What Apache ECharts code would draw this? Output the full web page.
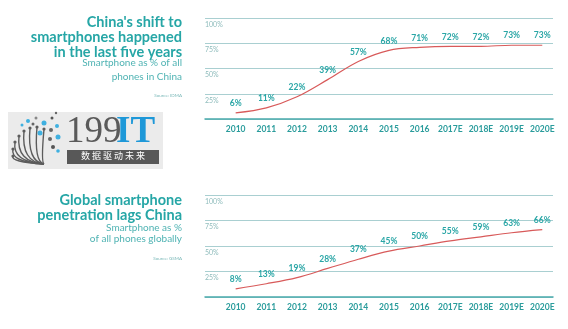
<!DOCTYPE html>
<html><head><meta charset="utf-8">
<script src="https://cdn.jsdelivr.net/npm/echarts@6/dist/echarts.min.js"></script>
<style>html,body{margin:0;padding:0;background:#fff}#c{width:568px;height:329px}</style>
</head><body><div id="c"></div>
<script>
const categories = ['2010','2011','2012','2013','2014','2015','2016','2017E','2018E','2019E','2020E'];
const chinaShare = [6,11,22,39,57,68,71,72,72,73,73];
const globalShare = [8,13,19,28,37,45,50,55,59,63,66];
const yTicks = [25,50,75,100];

const teal = '#26a6a6';
const chart = echarts.init(document.getElementById('c'), null, {renderer:'canvas'});

function xAxisCfg(gi){
  return {
    type:'value', gridIndex:gi, min:-1, max:10.35, interval:1,
    axisLine:{show:true, onZero:false, lineStyle:{color:'#4aaaac', width:1.5}},
    axisTick:{show:false}, splitLine:{show:false},
    axisLabel:{show:true, showMaxLabel:false, margin:6, color:'#2a9c9c', fontSize:8.5, fontWeight:'bold', fontFamily:'Lato',
      formatter:v=>categories[v] !== undefined ? categories[v] : ''}
  };
}
function yAxisCfg(gi){
  return {
    type:'value', gridIndex:gi, min:0, max:100, interval:25,
    axisLine:{show:false}, axisTick:{show:false},
    splitLine:{show:true, lineStyle:{color:'#a9cfd1', width:1}},
    axisLabel:{inside:true, margin:0, verticalAlign:'top', padding:[3,0,0,0], color:'#8fbcbc', fontSize:7, fontFamily:'Lato',
      formatter:v=>yTicks.includes(v) ? v+'%' : ''}
  };
}
function seriesCfg(gi, vals){
  return {
    type:'line', xAxisIndex:gi, yAxisIndex:gi, smooth:0.35,
    data: vals.map((v,i)=>[i,v]),
    symbol:'circle', symbolSize:0.01,
    lineStyle:{color:'#d85a5a', width:1.2},
    itemStyle:{color:'#d85a5a'},
    label:{show:true, position:'top', distance:5, color:'#2aa6a6', fontSize:8.5, fontWeight:'bold', fontFamily:'Lato',
      formatter:p=>p.value[1]+'%'},
    silent:true, animation:false
  };
}

const titleStyle = {fill:teal, font:'bold 14.5px Lato', textAlign:'right'};
const subStyle = {fill:'#4fb3b3', font:'10px Lato', textAlign:'right'};
const srcStyle = {fill:'#7ab8b8', font:'4.5px Lato', textAlign:'right'};

const logo = [];
logo.push({type:'rect', shape:{x:8,y:112,width:155,height:57}, style:{fill:'#ebebeb'}});
// fan of dark strands from a base point toward the upper left
const base = [44,164];
const ends = [[13,156],[13,149],[15,142],[19,136],[24,131],[30,128],[37,127],[44,129]];
ends.forEach(e=>{
  logo.push({type:'bezierCurve', shape:{x1:base[0], y1:base[1], x2:e[0], y2:e[1],
    cpx1:e[0] - 3, cpy1:base[1] - 2}, style:{stroke:'#5c5c5c', lineWidth:1.4, fill:null}});
  logo.push({type:'circle', shape:{cx:e[0],cy:e[1],r:1.6}, style:{fill:'#5c5c5c'}});
});
const dots = [[28,121,2,'#3fb0e0'],[36,118,1.5,'#888'],[44,123,2.5,'#3fb0e0'],[52,118,1.5,'#555'],[40,133,2.5,'#3fb0e0'],[51,130,2,'#666'],
  [57,126,2,'#3fb0e0'],[58,137,2.5,'#3fb0e0'],[50,139,2,'#666'],[53,147,2,'#555'],[58,151,1.8,'#3fb0e0'],[33,124,1.5,'#666'],[22,125,1.5,'#3fb0e0'],[56,113,1.2,'#666']];
dots.forEach(d=>logo.push({type:'circle', shape:{cx:d[0],cy:d[1],r:d[2]}, style:{fill:d[3]}}));
logo.push({type:'text', style:{x:66, y:114, text:'199', fill:'#5a5a5a', font:'37px "Liberation Serif"'}});
logo.push({type:'text', style:{x:116, y:114, text:'IT', fill:'#1e98d8', font:'bold 37px "Liberation Serif"'}});
logo.push({type:'rect', shape:{x:67,y:150,width:92,height:14}, style:{fill:'#585858'}});
logo.push({type:'text', style:{x:113, y:151, text:'数 据 驱 动 未 来', fill:'#fff', font:'9px "Noto Sans CJK SC"', textAlign:'center'}});

chart.setOption({
  animation:false,
  backgroundColor:'#fff',
  grid:[{left:205,right:15,top:18,height:101},{left:205,right:15,top:195,height:102}],
  xAxis:[xAxisCfg(0), xAxisCfg(1)],
  yAxis:[yAxisCfg(0), yAxisCfg(1)],
  series:[seriesCfg(0, chinaShare), seriesCfg(1, globalShare)],
  graphic:[
    {type:'text', style:Object.assign({x:182,y:15,text:"China's shift to"}, titleStyle)},
    {type:'text', style:Object.assign({x:182,y:30,text:'smartphones happened'}, titleStyle)},
    {type:'text', style:Object.assign({x:182,y:45,text:'in the last five years'}, titleStyle)},
    {type:'text', style:Object.assign({x:182,y:58,text:'Smartphone as % of all'}, subStyle)},
    {type:'text', style:Object.assign({x:182,y:72,text:'phones in China'}, subStyle)},
    {type:'text', style:Object.assign({x:182,y:93,text:'Source: IDMA'}, srcStyle)},
    {type:'text', style:Object.assign({x:182,y:193,text:'Global smartphone'}, titleStyle)},
    {type:'text', style:Object.assign({x:182,y:208,text:'penetration lags China'}, titleStyle)},
    {type:'text', style:Object.assign({x:182,y:223,text:'Smartphone as %'}, subStyle)},
    {type:'text', style:Object.assign({x:182,y:234,text:'of all phones globally'}, subStyle)},
    {type:'text', style:Object.assign({x:182,y:256,text:'Source: GSMA'}, srcStyle)}
  ].concat(logo)
});
</script></body></html>
